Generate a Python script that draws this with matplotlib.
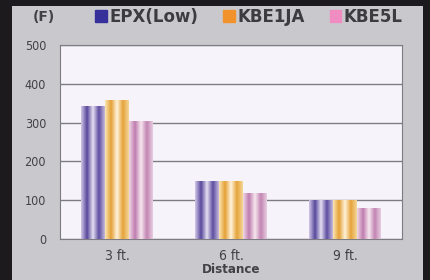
import matplotlib
matplotlib.use("Agg")
import matplotlib.pyplot as plt
import numpy as np
from matplotlib.colors import LinearSegmentedColormap
from matplotlib.patches import Patch, Rectangle

categories = ["3 ft.", "6 ft.", "9 ft."]
series = ["EPX(Low)", "KBE1JA", "KBE5L"]
epx = [342, 147, 100]
kbe1ja = [358, 147, 100]
kbe5l = [302, 117, 79]
values = [epx, kbe1ja, kbe5l]

# bar shading: dark / light / dark / light stripes like the print
shades = [
    ["#cfc6e6", "#56479a", "#e6e0f2", "#5c4da0", "#c2b8dc"],
    ["#fae4b0", "#e4a036", "#fff4dc", "#e6a33a", "#f4d696"],
    ["#f0d8e6", "#be7cae", "#f7e8f0", "#c284b2", "#e8cce0"],
]
legend_colors = ["#35309a", "#f2922c", "#f08cc2"]
txt = "#424246"

fig = plt.figure(figsize=(4.3, 2.8), dpi=100)
fig.patch.set_facecolor("#1c1a1c")
fig.patches.append(Rectangle((12 / 430, 0), 411 / 430, 274 / 280,
                             transform=fig.transFigure, facecolor="#c9c9cd",
                             edgecolor="none", zorder=-5))

ax = fig.add_axes([60 / 430, 41 / 280, 342 / 430, 194 / 280])
ax.set_zorder(2)
ax.set_facecolor("#f6f4fa")

x = np.arange(len(categories))
w = 0.21
grad = np.linspace(0, 1, 64).reshape(1, -1)
for i, vals in enumerate(values):
    pos = x + (i - 1) * w
    bars = ax.bar(pos, vals, width=w, color=shades[i][1], zorder=2)
    cmap = LinearSegmentedColormap.from_list("s%d" % i, shades[i])
    for b in bars:
        ax.imshow(grad, cmap=cmap, aspect="auto", zorder=3,
                  extent=[b.get_x(), b.get_x() + b.get_width(), 0, b.get_height()])

ax.set_xlim(-0.5, 2.5)
ax.set_ylim(0, 500)
ax.set_yticks([0, 100, 200, 300, 400, 500])
ax.set_xticks(x)
ax.set_xticklabels(categories)
ax.yaxis.grid(True, color="#7c7c82", lw=1)
ax.set_axisbelow(True)
for s in ax.spines.values():
    s.set_color("#7c7c82")
ax.tick_params(length=0, colors=txt)
ax.tick_params(axis="y", pad=10, labelsize=9)
ax.tick_params(axis="x", pad=7, labelsize=10)
for lab in ax.get_xticklabels() + ax.get_yticklabels():
    lab.set_fontstretch("condensed")
ax.set_xlabel("Distance", fontsize=9.5, color=txt, labelpad=0,
              fontweight="bold", fontstretch="condensed")

fig.text(44 / 430, 1 - 17 / 280, "(F)", ha="center", va="center", fontsize=10,
         color=txt, fontweight="bold")

handles = [Patch(color=c) for c in legend_colors]
fig.legend(handles, series, ncol=3, frameon=False, loc="center",
           bbox_to_anchor=(249 / 430, 1 - 17 / 280), handlelength=0.7,
           handleheight=0.7, handletextpad=0.15, columnspacing=1.5,
           prop={"family": "DejaVu Sans", "weight": "bold", "size": 12},
           labelcolor="#3c3c40")

fig.savefig("out.png", dpi=100, facecolor=fig.get_facecolor())
